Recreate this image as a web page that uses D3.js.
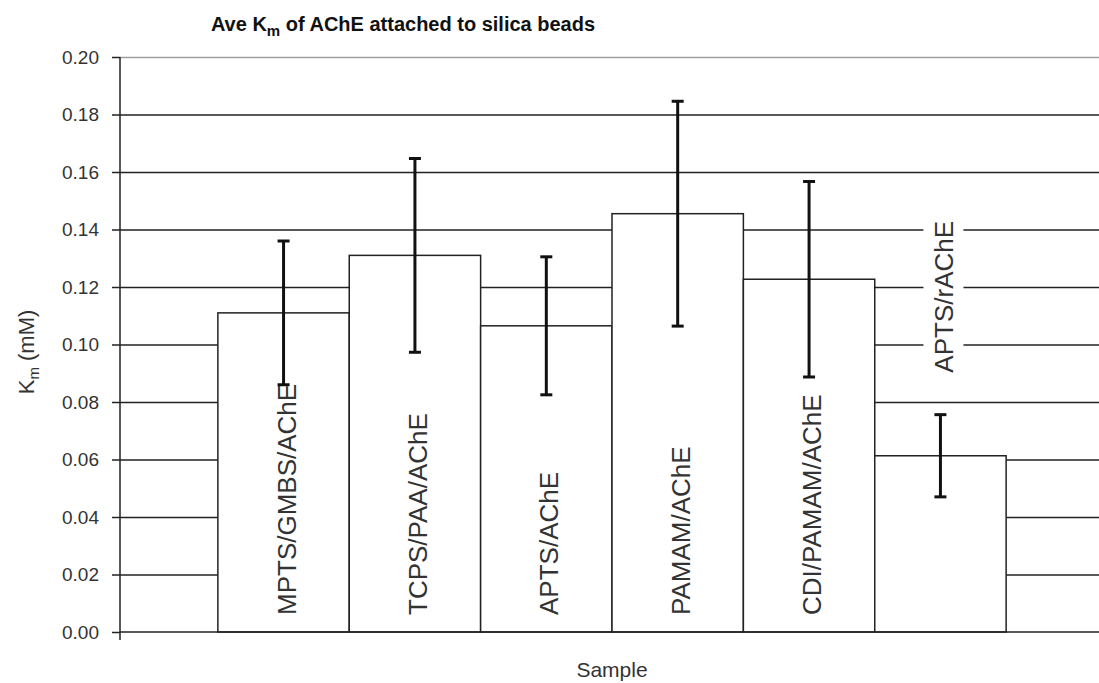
<!DOCTYPE html>
<html lang="en">
<head>
    <meta charset="UTF-8">
    <title>Ave Km of AChE attached to silica beads</title>
    <script src="https://d3js.org/d3.v7.min.js"></script>
    <style>
        body { margin: 0; background: white; font-family: Arial, "Liberation Sans", sans-serif; }
        svg { display: block; }
    </style>
</head>
<body>
    <script>
        // Chart data
        const samples = ["MPTS/GMBS/AChE", "TCPS/PAA/AChE", "APTS/AChE", "PAMAM/AChE", "CDI/PAMAM/AChE", "APTS/rAChE"];
        const kmMeans = [0.111, 0.131, 0.1065, 0.1455, 0.1227, 0.0613];
        const kmErrors = [0.025, 0.0337, 0.024, 0.0391, 0.034, 0.0143];
        const yTicks = [0, 0.02, 0.04, 0.06, 0.08, 0.10, 0.12, 0.14, 0.16, 0.18, 0.20];

        const W = 1099, H = 683;
        const margin = {top: 57, right: -5, bottom: 51, left: 120};
        const plotRight = W - margin.right;
        const plotBottom = H - margin.bottom;

        const svg = d3.select("body").append("svg")
            .attr("width", W)
            .attr("height", H);

        const data = samples.map((s, i) => ({ name: s, mean: kmMeans[i], err: kmErrors[i] }));

        // Scales
        const x = d3.scaleBand().domain(samples)
            .range([margin.left, plotRight])
            .paddingInner(0).paddingOuter(0.745);
        const y = d3.scaleLinear().domain([0, 0.2]).range([plotBottom, margin.top]);

        // Gridlines (drawn first, bars cover them)
        const grid = svg.append("g")
            .attr("transform", `translate(${margin.left},0)`)
            .call(d3.axisRight(y).tickValues(yTicks.slice(1)).tickSize(plotRight - margin.left).tickFormat(""));
        grid.select(".domain").remove();
        grid.selectAll(".tick line")
            .attr("stroke", d => d === 0.2 ? "#a0a0a0" : "#222")
            .attr("stroke-width", 1.5);

        // Bars
        svg.selectAll(".bar")
            .data(data)
            .enter().append("rect")
            .attr("class", "bar")
            .attr("x", d => x(d.name))
            .attr("y", d => y(d.mean))
            .attr("width", x.bandwidth())
            .attr("height", d => y(0) - y(d.mean))
            .attr("fill", "white")
            .attr("stroke", "#222")
            .attr("stroke-width", 1.5);

        // Y axis with ticks and labels
        const yAxis = svg.append("g")
            .attr("transform", `translate(${margin.left},0)`)
            .call(d3.axisLeft(y).tickValues(yTicks).tickSize(8).tickPadding(13).tickFormat(d3.format(".2f")));
        yAxis.select(".domain").remove();
        yAxis.selectAll(".tick line").attr("stroke", "#222").attr("stroke-width", 1.5);
        yAxis.selectAll(".tick text")
            .attr("fill", "#333")
            .style("font-size", "19px")
            .style("font-family", "Arial, 'Liberation Sans', sans-serif");

        // Axis lines
        svg.append("line")
            .attr("x1", margin.left).attr("x2", margin.left)
            .attr("y1", y(0.2)).attr("y2", y(0) + 8)
            .attr("stroke", "#222").attr("stroke-width", 1.5);
        svg.append("line")
            .attr("x1", margin.left).attr("x2", plotRight)
            .attr("y1", y(0)).attr("y2", y(0))
            .attr("stroke", "#222").attr("stroke-width", 1.5);

        // Rotated sample labels (inside base, or above the error bar when the bar is too short)
        const labelSize = 26;
        const labels = svg.selectAll(".lbl")
            .data(data)
            .enter().append("text")
            .attr("class", "lbl")
            .style("font-size", labelSize + "px")
            .attr("fill", "#333")
            .attr("text-anchor", "start")
            .attr("dy", "0.35em")
            .text(d => d.name);

        labels.each(function (d) {
            const len = this.getComputedTextLength();
            const cx = x(d.name) + x.bandwidth() / 2 + 3;
            const inside = (y(0) - y(d.mean)) > len + 30;
            const startY = inside ? y(0) - 17 : y(d.mean + d.err) - 42;
            d.lbl = { cx, startY, len, inside };
            d3.select(this).attr("transform", `translate(${cx},${startY}) rotate(-90)`);
        });

        // White box behind labels sitting over the gridlines
        data.filter(d => !d.lbl.inside).forEach(d => {
            svg.insert("rect", ".lbl")
                .attr("x", d.lbl.cx - 20)
                .attr("y", d.lbl.startY - d.lbl.len - 4)
                .attr("width", 40)
                .attr("height", d.lbl.len + 8)
                .attr("fill", "white");
        });

        // Error bars
        const eb = svg.selectAll(".err")
            .data(data)
            .enter().append("g")
            .attr("class", "err")
            .attr("stroke", "#111")
            .attr("stroke-width", 3);
        eb.append("line")
            .attr("x1", d => x(d.name) + x.bandwidth() / 2)
            .attr("x2", d => x(d.name) + x.bandwidth() / 2)
            .attr("y1", d => y(d.mean + d.err))
            .attr("y2", d => y(d.mean - d.err));
        eb.append("line")
            .attr("x1", d => x(d.name) + x.bandwidth() / 2 - 6)
            .attr("x2", d => x(d.name) + x.bandwidth() / 2 + 6)
            .attr("y1", d => y(d.mean + d.err))
            .attr("y2", d => y(d.mean + d.err));
        eb.append("line")
            .attr("x1", d => x(d.name) + x.bandwidth() / 2 - 6)
            .attr("x2", d => x(d.name) + x.bandwidth() / 2 + 6)
            .attr("y1", d => y(d.mean - d.err))
            .attr("y2", d => y(d.mean - d.err));

        // Title
        const title = svg.append("text")
            .attr("x", 403)
            .attr("y", 31)
            .attr("text-anchor", "middle")
            .attr("fill", "#111")
            .style("font-size", "20px")
            .style("font-weight", "bold");
        title.append("tspan").text("Ave K");
        title.append("tspan").attr("dy", 5).style("font-size", "15px").text("m");
        title.append("tspan").attr("dy", -5).text(" of AChE attached to silica beads");

        // Y axis title
        const yTitle = svg.append("text")
            .attr("transform", `translate(34,352) rotate(-90)`)
            .attr("text-anchor", "middle")
            .attr("fill", "#333")
            .style("font-size", "22px");
        yTitle.append("tspan").text("K");
        yTitle.append("tspan").attr("dy", 5).style("font-size", "15px").text("m");
        yTitle.append("tspan").attr("dy", -5).text(" (mM)");

        // X axis title
        svg.append("text")
            .attr("x", (margin.left + plotRight) / 2)
            .attr("y", 677)
            .attr("text-anchor", "middle")
            .attr("fill", "#333")
            .style("font-size", "21px")
            .text("Sample");
    </script>
</body>
</html>
